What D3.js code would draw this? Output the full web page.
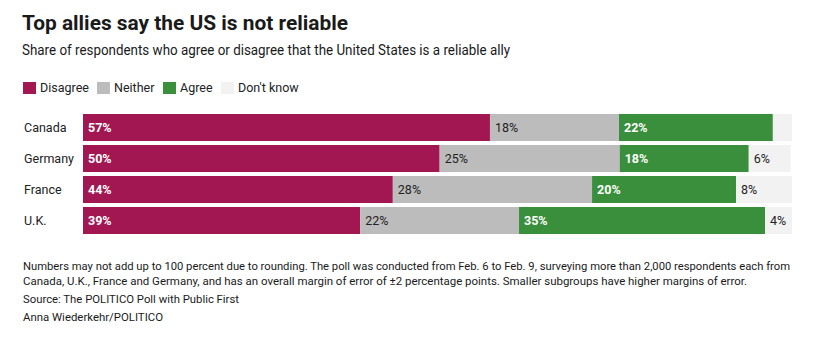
<!DOCTYPE html>
<html>
<head>
<meta charset="utf-8">
<script src="https://cdn.jsdelivr.net/npm/d3@7"></script>
<style>
	body { margin: 0; background: #fff; }
	svg text { font-family: Roboto, "Noto Sans", sans-serif; }
</style>
</head>
<body>
<svg width="815" height="349"></svg>
<script>
// data
var countries = ["Canada", "Germany", "France", "U.K."];
var seriesNames = ["Disagree", "Neither", "Agree", "Don't know"];
var disagree = [57.4, 50.3, 43.7, 39.1];
var neither = [18.2, 25.4, 28.1, 22.4];
var agree = [21.7, 18.2, 20.3, 34.7];
var dontKnow = [2.7, 5.9, 7.9, 3.8];

var colors = ["#a21751", "#bcbcbc", "#3a8f3c", "#f2f2f2"];
var labelFill = ["#fff", "#222", "#fff", "#222"];
var labelWeight = ["bold", "normal", "bold", "normal"];

var rows = countries.map(function(c, i) {
	return { country: c, "Disagree": disagree[i], "Neither": neither[i], "Agree": agree[i], "Don't know": dontKnow[i] };
});

var svg = d3.select("svg");

function fitText(sel, w) {
	sel.attr("textLength", w).attr("lengthAdjust", "spacingAndGlyphs");
}

// header
svg.append("text").attr("x", 22).attr("y", 30)
	.attr("font-size", 21).attr("font-weight", "bold").attr("fill", "#1a1a1a")
	.text("Top allies say the US is not reliable")
	.call(fitText, 326);

svg.append("text").attr("x", 22).attr("y", 55)
	.attr("font-size", 14).attr("fill", "#1a1a1a")
	.text("Share of respondents who agree or disagree that the United States is a reliable ally")
	.call(fitText, 488);

// legend
var legendX = [23, 97, 163, 221];
var lg = svg.append("g").selectAll("g")
	.data(seriesNames).enter().append("g")
	.attr("transform", function(d, i) { return "translate(" + legendX[i] + ",82)"; });
lg.append("rect").attr("width", 13).attr("height", 12)
	.attr("fill", function(d, i) { return colors[i]; });
lg.append("text").attr("x", 17).attr("y", 9.5)
	.attr("font-size", 12.5).attr("fill", "#222")
	.text(function(d) { return d; });

// bars
var x = d3.scaleLinear().domain([0, 100]).range([83, 792]);
var y = d3.scaleBand().domain(countries).range([114, 234]).paddingInner(4 / 31).paddingOuter(0);

var stack = d3.stack().keys(seriesNames)(rows);

var layers = svg.append("g").selectAll("g")
	.data(stack).enter().append("g")
	.attr("fill", function(d, i) { return colors[i]; });

layers.selectAll("rect")
	.data(function(d) { return d; })
	.enter().append("rect")
	.attr("x", function(d) { return x(d[0]); })
	.attr("y", function(d) { return y(d.data.country); })
	.attr("width", function(d) { return x(d[1]) - x(d[0]); })
	.attr("height", y.bandwidth());

// value labels
stack.forEach(function(layer, i) {
	svg.append("g").selectAll("text")
		.data(layer.filter(function(d) { return d[1] - d[0] >= 3.5; }))
		.enter().append("text")
		.attr("x", function(d) { return x(d[0]) + 5; })
		.attr("y", function(d) { return y(d.data.country) + y.bandwidth() / 2; })
		.attr("dy", "0.35em")
		.attr("font-size", 12.5)
		.attr("font-weight", labelWeight[i])
		.attr("fill", labelFill[i])
		.text(function(d) { return Math.round(d[1] - d[0]) + "%"; });
});

// country axis
var yAxis = svg.append("g").attr("transform", "translate(24,0)")
	.call(d3.axisLeft(y).tickSize(0).tickPadding(0));
yAxis.select(".domain").remove();
yAxis.selectAll("text")
	.attr("text-anchor", "start")
	.attr("font-size", 12.5)
	.attr("font-family", "Roboto, sans-serif")
	.attr("fill", "#222");

// notes
var notes = [
	"Numbers may not add up to 100 percent due to rounding. The poll was conducted from Feb. 6 to Feb. 9, surveying more than 2,000 respondents each from",
	"Canada, U.K., France and Germany, and has an overall margin of error of \u00b12 percentage points. Smaller subgroups have higher margins of error.",
	"Source: The POLITICO Poll with Public First",
	"Anna Wiederkehr/POLITICO"
];
var noteY = [270, 285, 303, 321];
var noteW = [767, 724, 216, 140];
notes.forEach(function(t, i) {
	svg.append("text").attr("x", 23).attr("y", noteY[i])
		.attr("font-size", 11.5).attr("fill", "#1a1a1a")
		.text(t).call(fitText, noteW[i]);
});
</script>
</body>
</html>
